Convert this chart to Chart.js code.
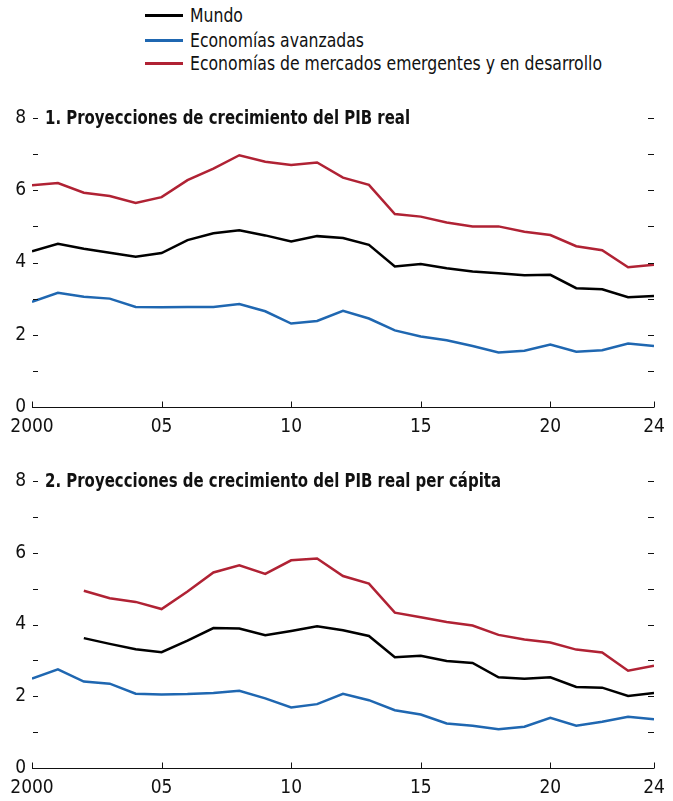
<!DOCTYPE html>
<html lang="es">
<head>
<meta charset="utf-8">
<script src="https://cdn.jsdelivr.net/npm/chart.js@4.4.1/dist/chart.umd.min.js"></script>
<style>
  body { margin:0; background:#fff; width:673px; height:801px; overflow:hidden; position:relative;
         font-family:"Liberation Sans Narrow","DejaVu Sans Condensed",Arial,sans-serif; color:#111; }
  .panel { position:absolute; left:0; width:673px; }
  .key { position:absolute; left:145px; height:24px; line-height:24px; font-size:20px; white-space:nowrap; }
  .key i { position:absolute; left:0; top:11px; width:38px; height:3px; }
  .key b { position:absolute; left:45px; top:0; font-weight:normal; transform-origin:left center; }
  .ttl { position:absolute; left:45px; font-size:19.5px; line-height:20px; font-weight:bold; white-space:nowrap; transform-origin:left center; }
</style>
</head>
<body>

<div class="key" style="top:3px"><i style="background:#000"></i><b>Mundo</b></div>
<div class="key" style="top:28px"><i style="background:#1f67b1"></i><b>Economías avanzadas</b></div>
<div class="key" style="top:51px"><i style="background:#b02234"></i><b id="longKey">Economías de mercados emergentes y en desarrollo</b></div>

<div class="panel" style="top:100px;height:347px"><canvas id="c1" width="673" height="347"></canvas></div>
<div class="panel" style="top:462px;height:346px"><canvas id="c2" width="673" height="346"></canvas></div>

<div class="ttl" id="t1" style="top:108px" data-w="365">1. Proyecciones de crecimiento del PIB real</div>
<div class="ttl" id="t2" style="top:471px" data-w="456">2. Proyecciones de crecimiento del PIB real per cápita</div>

<script>
// years on the x axis
const years = [2000,2001,2002,2003,2004,2005,2006,2007,2008,2009,2010,2011,
               2012,2013,2014,2015,2016,2017,2018,2019,2020,2021,2022,2023,2024];
const xTicks = [2000, 2005, 2010, 2015, 2020, 2024];

// panel 1: real GDP growth projections
const world1 = [4.31,4.52,4.38,4.27,4.16,4.26,4.62,4.81,4.89,4.75,4.58,4.73,
                4.68,4.49,3.89,3.96,3.84,3.75,3.70,3.65,3.66,3.29,3.26,3.04,3.07];
const adv1   = [2.91,3.16,3.05,3.00,2.77,2.76,2.77,2.77,2.85,2.65,2.31,2.38,
                2.66,2.45,2.12,1.95,1.85,1.69,1.51,1.56,1.73,1.53,1.57,1.76,1.69];
const emde1  = [6.14,6.20,5.93,5.84,5.65,5.81,6.28,6.60,6.97,6.79,6.70,6.77,
                6.35,6.15,5.34,5.27,5.11,5.00,5.00,4.85,4.76,4.45,4.34,3.87,3.94];

// panel 2: real GDP per capita growth projections
const world2 = [null,null,3.62,3.46,3.31,3.23,3.55,3.90,3.89,3.70,3.82,3.95,
                3.84,3.68,3.09,3.13,2.98,2.93,2.53,2.49,2.53,2.26,2.24,2.01,2.09];
const adv2   = [2.49,2.75,2.41,2.35,2.07,2.05,2.06,2.09,2.15,1.94,1.69,1.78,
                2.07,1.89,1.61,1.49,1.24,1.18,1.08,1.15,1.40,1.18,1.29,1.43,1.36];
const emde2  = [null,null,4.94,4.73,4.63,4.43,4.92,5.45,5.65,5.41,5.79,5.84,
                5.35,5.14,4.33,4.20,4.07,3.97,3.71,3.58,3.50,3.30,3.22,2.71,2.85];

const FONT = "'Liberation Sans Narrow','DejaVu Sans Condensed',Arial,sans-serif";

function pts(vals) {
  return years.map((yr, i) => ({ x: yr, y: vals[i] }));
}

// small inward tick marks + x axis line
const tickMarks = {
  id: 'tickMarks',
  afterDraw(chart) {
    const { ctx, chartArea: a, scales: { x, y } } = chart;
    ctx.save();
    ctx.strokeStyle = '#111';
    ctx.lineWidth = 1;
    ctx.beginPath();
    for (let v = 1; v <= 8; v++) {
      const py = Math.round(y.getPixelForValue(v)) + 0.5;
      ctx.moveTo(a.left + 1, py); ctx.lineTo(a.left + 6, py);
      ctx.moveTo(a.right - 6, py); ctx.lineTo(a.right, py);
    }
    const by = Math.round(a.bottom) + 0.5;
    ctx.moveTo(a.left, by); ctx.lineTo(a.right, by);
    xTicks.forEach(v => {
      const px = Math.round(x.getPixelForValue(v)) + 0.5;
      ctx.moveTo(px, by); ctx.lineTo(px, by - 6);
    });
    ctx.stroke();
    ctx.restore();
  }
};

function makeChart(id, world, adv, emde, padTop) {
  const line = (vals, color) => ({
    data: pts(vals), borderColor: color, borderWidth: 2.5,
    pointRadius: 0, tension: 0, spanGaps: false, fill: false
  });
  new Chart(document.getElementById(id), {
    type: 'line',
    data: {
      datasets: [
        line(emde, '#b02234'),
        line(world, '#000000'),
        line(adv, '#1f67b1')
      ]
    },
    options: {
      responsive: false,
      animation: false,
      devicePixelRatio: 1,
      layout: { padding: { top: padTop, right: 19, left: 0, bottom: 0 } },
      plugins: { legend: { display: false }, tooltip: { enabled: false } },
      scales: {
        x: {
          type: 'linear', min: 2000, max: 2024,
          afterBuildTicks: s => { s.ticks = xTicks.map(v => ({ value: v })); },
          afterFit: s => { s.height = 40; },
          grid: { display: false },
          border: { display: false },
          ticks: {
            padding: 1, color: '#111', maxRotation: 0, autoSkip: false,
            font: { family: FONT, size: 19 },
            callback: v => v === 2000 ? '2000' : String(v % 100).padStart(2, '0')
          }
        },
        y: {
          min: 0, max: 8,
          afterFit: s => { s.width = 32; },
          grid: { display: false, drawTicks: false },
          border: { display: false },
          ticks: { stepSize: 2, padding: 6, color: '#111', font: { family: FONT, size: 19 } }
        }
      }
    },
    plugins: [tickMarks]
  });
}

makeChart('c1', world1, adv1, emde1, 18);
makeChart('c2', world2, adv2, emde2, 19);

// squeeze text to the measured widths of the reference
function fitWidth(el, w) {
  const r = el.getBoundingClientRect().width;
  if (r > 0) el.style.transform = 'scaleX(' + (w / r) + ')';
  return w / r;
}
const k = fitWidth(document.getElementById('longKey'), 412);
document.querySelectorAll('.key b').forEach(b => { b.style.transform = 'scaleX(' + k + ')'; });
document.querySelectorAll('.ttl').forEach(t => fitWidth(t, +t.dataset.w));
</script>
</body>
</html>
